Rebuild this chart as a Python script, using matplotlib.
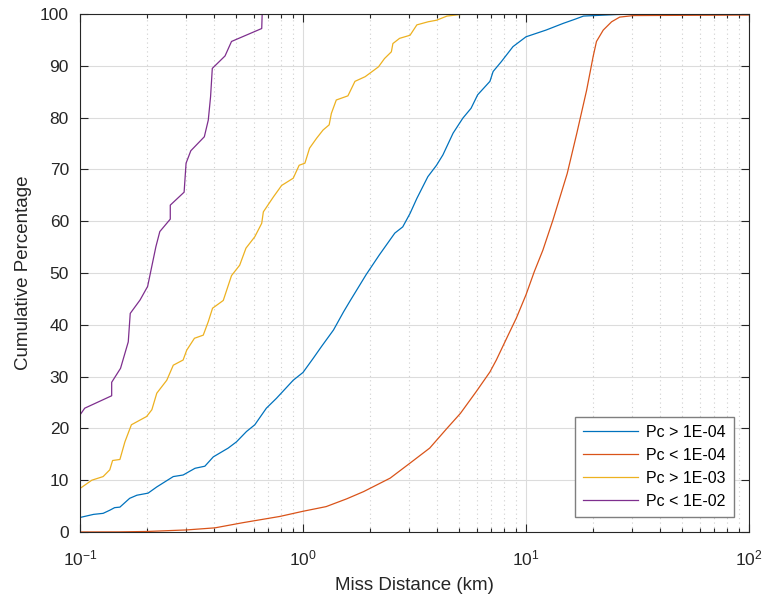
import matplotlib

matplotlib.use("Agg")
import matplotlib.pyplot as plt
from matplotlib.ticker import LogLocator, NullFormatter

plt.rcParams["font.family"] = ["Liberation Sans", "DejaVu Sans"]
plt.rcParams["axes.unicode_minus"] = False

blue_x = [0.1, 0.115, 0.127, 0.136, 0.143, 0.151, 0.167, 0.180, 0.202, 0.221, 0.262,
          0.290, 0.328, 0.363, 0.396, 0.462, 0.503, 0.558, 0.608, 0.685, 0.760, 0.904,
          1.0, 1.11, 1.21, 1.37, 1.52, 1.62, 1.92, 2.20, 2.58, 2.80, 3.02, 3.24, 3.63,
          3.97, 4.24, 4.71, 5.21, 5.67, 6.07, 6.89, 7.12, 7.75, 8.74, 10.0, 12.3, 14.7,
          16.6, 18.1, 25.4, 30.0, 100.0]
blue_y = [2.8, 3.4, 3.6, 4.2, 4.7, 4.8, 6.5, 7.1, 7.5, 8.7, 10.7,
          11.0, 12.3, 12.7, 14.5, 16.2, 17.4, 19.4, 20.7, 23.9, 25.8, 29.3,
          30.8, 33.5, 35.8, 39.0, 42.5, 44.5, 49.7, 53.5, 57.7, 58.9, 61.5, 64.4, 68.6,
          70.8, 72.8, 77.0, 79.9, 81.8, 84.4, 87.0, 88.9, 90.8, 93.7, 95.6, 96.9, 98.2,
          99.0, 99.6, 99.9, 100.0, 100.0]

orange_x = [0.1, 0.15, 0.2, 0.301, 0.403, 0.538, 0.787, 1.0, 1.27, 1.57, 1.87, 2.46,
            3.02, 3.70, 4.42, 5.08, 5.98, 6.89, 7.36, 8.4, 9.05, 10.0, 10.9, 11.9, 13.2,
            15.3, 16.9, 18.7, 20.0, 20.7, 22.2, 24.2, 26.3, 30.3, 100.0]
orange_y = [0.0, 0.02, 0.1, 0.4, 0.8, 1.8, 3.0, 4.0, 4.9, 6.4, 7.8, 10.4,
            13.3, 16.2, 20.0, 22.9, 27.1, 30.9, 33.2, 38.4, 41.3, 45.8, 50.3, 54.4, 60.2,
            69.2, 77.0, 85.3, 91.8, 94.7, 96.9, 98.5, 99.4, 99.7, 99.8]

yellow_x = [0.1, 0.113, 0.127, 0.136, 0.140, 0.151, 0.159, 0.170, 0.199, 0.210, 0.221,
            0.245, 0.262, 0.290, 0.301, 0.326, 0.357, 0.376, 0.393, 0.439, 0.478, 0.52,
            0.555, 0.608, 0.653, 0.664, 0.737, 0.802, 0.904, 0.961, 1.02, 1.07, 1.15,
            1.23, 1.31, 1.34, 1.41, 1.59, 1.71, 1.90, 2.18, 2.32, 2.49, 2.53, 2.71, 3.02,
            3.24, 3.64, 3.97, 4.42, 5.3]
yellow_y = [8.4, 10.0, 10.7, 12.0, 13.8, 14.0, 17.4, 20.7, 22.3, 23.6, 26.8,
            29.3, 32.2, 33.2, 35.1, 37.4, 38.0, 40.6, 43.2, 44.7, 49.5, 51.5,
            54.8, 57.0, 59.6, 61.8, 64.7, 66.9, 68.3, 70.8, 71.2, 74.1, 76.0,
            77.6, 78.6, 80.8, 83.4, 84.2, 87.0, 87.9, 89.8, 91.4, 92.7, 94.3, 95.3, 95.9,
            97.9, 98.5, 98.8, 99.6, 100.0]

purple_x = [0.1, 0.105, 0.1387, 0.1387, 0.152, 0.1646, 0.168, 0.186, 0.201, 0.219, 0.228,
            0.254, 0.254, 0.293, 0.299, 0.314, 0.361, 0.376, 0.385, 0.392, 0.447, 0.478,
            0.653, 0.656]
purple_y = [22.6, 23.9, 26.3, 28.9, 31.6, 36.7, 42.2, 44.8, 47.4, 55.1, 58.0,
            60.4, 63.1, 65.6, 71.2, 73.6, 76.3, 79.5, 84.0, 89.5, 91.9, 94.7,
            97.2, 100.0]

labels = ["Pc > 1E-04", "Pc < 1E-04", "Pc > 1E-03", "Pc < 1E-02"]
colors = ["#0072BD", "#D95319", "#EDB120", "#7E2F8E"]

fig = plt.figure(figsize=(7.64, 5.96), dpi=100)
ax = fig.add_axes([0.1047, 0.1074, 0.8757, 0.8691])

series = [(blue_x, blue_y), (orange_x, orange_y), (yellow_x, yellow_y), (purple_x, purple_y)]
for (xs, ys), lab, c in zip(series, labels, colors):
    ax.plot(xs, ys, color=c, lw=0.9, label=lab)

ax.set_xscale("log")
ax.set_xlim(0.1, 100)
ax.set_ylim(0, 100)
ax.set_yticks(range(0, 101, 10))
ax.xaxis.set_minor_locator(LogLocator(base=10, subs=range(2, 10)))
ax.xaxis.set_minor_formatter(NullFormatter())

ax.grid(True, which="major", color="#dcdcdc", lw=0.8)
ax.grid(True, which="minor", axis="x", color="#cfcfcf", lw=0.8, ls=(0, (1, 3)))
ax.set_axisbelow(True)

axcol = "#262626"
for s in ax.spines.values():
    s.set_color(axcol)
    s.set_linewidth(0.8)
ax.tick_params(which="both", direction="in", top=True, right=True, colors=axcol,
               labelsize=12.5, width=0.8)
ax.tick_params(which="major", length=6, pad=8)
ax.tick_params(axis="x", which="major", pad=12)
ax.tick_params(which="minor", length=3)

ax.set_xlabel("Miss Distance (km)", fontsize=13.5, color=axcol, labelpad=6)
ax.set_ylabel("Cumulative Percentage", fontsize=13.5, color=axcol, labelpad=6)

leg = ax.legend(loc="lower right", bbox_to_anchor=(0.9776, 0.029), borderaxespad=0,
                fontsize=11.5, handlelength=3.5, fancybox=False, framealpha=1,
                borderpad=0.5, labelspacing=0.5, handletextpad=0.5)
leg.get_frame().set_edgecolor("#7f7f7f")
leg.get_frame().set_linewidth(1.0)

fig.savefig("out.png", dpi=100)
